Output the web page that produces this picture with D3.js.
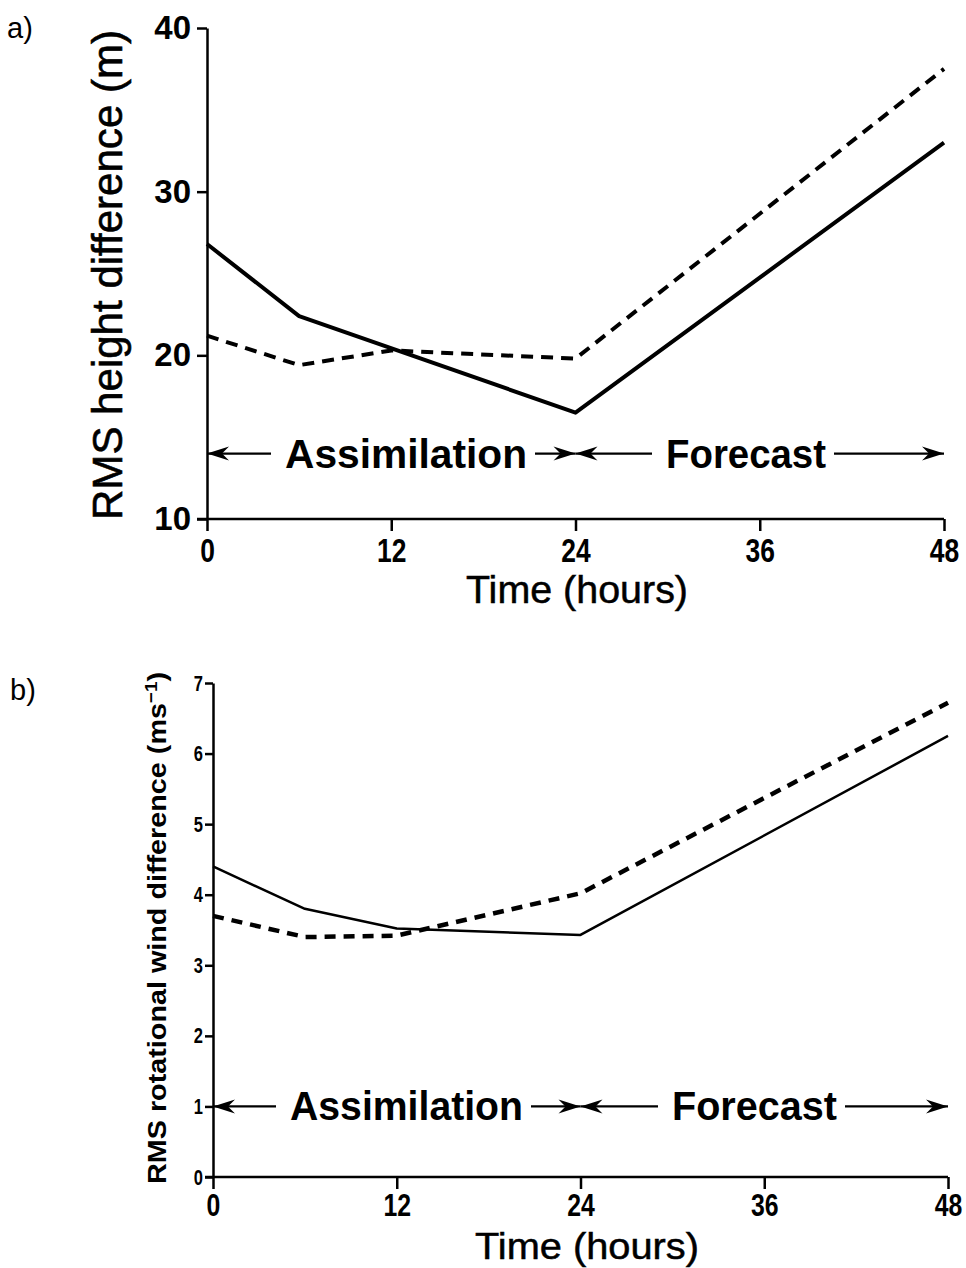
<!DOCTYPE html>
<html><head><meta charset="utf-8">
<script src="https://cdn.jsdelivr.net/npm/d3@7"></script>
<style>
body{margin:0;background:#fff;}
svg{display:block;}
</style></head>
<body>
<svg id="c" width="966" height="1268"></svg>
<script>
// ---- data ----
const xTicks = [0, 12, 24, 36, 48];

// panel a: RMS height difference (m)
const aTicksY = [10, 20, 30, 40];
const aSolidT = [0, 6, 24, 48];
const aSolidV = [26.8, 22.4, 16.5, 33.0];
const aDashT  = [0, 6, 12, 24, 48];
const aDashV  = [21.2, 19.4, 20.3, 19.8, 37.5];

// panel b: RMS rotational wind difference (ms-1)
const bTicksY = [0, 1, 2, 3, 4, 5, 6, 7];
const bSolidT = [0, 6, 12, 24, 48];
const bSolidV = [4.4, 3.8, 3.52, 3.43, 6.25];
const bDashT  = [0, 6, 12, 24, 48];
const bDashV  = [3.7, 3.4, 3.42, 4.02, 6.72];

const phaseLabels = ["Assimilation", "Forecast"];
const phaseBounds = [0, 24, 48];

const svg = d3.select("#c");
const defs = svg.append("defs");
defs.append("marker").attr("id","ah").attr("viewBox","-24 -8 26 16")
  .attr("refX",0).attr("refY",0).attr("markerWidth",26).attr("markerHeight",16)
  .attr("markerUnits","userSpaceOnUse").attr("orient","auto")
  .append("path").attr("d","M0,0 L-22,-7 L-15,0 L-22,7 Z").attr("fill","#000");

function panel(cfg){
  const g = svg.append("g");
  const x = d3.scaleLinear().domain([0,48]).range(cfg.xr);
  const y = d3.scaleLinear().domain(cfg.yd).range(cfg.yr);

  // y axis
  const ya = d3.axisLeft(y).tickValues(cfg.yTicks).tickFormat(d3.format("d"))
    .tickSize(cfg.tickY).tickSizeOuter(0).tickPadding(cfg.padY);
  const yg = g.append("g").attr("transform",`translate(${cfg.xr[0]},0)`).call(ya);
  yg.select(".domain").attr("stroke-width",cfg.axW);
  yg.selectAll(".tick line").attr("stroke-width",cfg.axW);
  yg.selectAll(".tick text").attr("font-family","Liberation Sans, Arial, sans-serif").attr("font-weight","bold")
    .attr("font-size",cfg.yFont).attr("fill","#000")
    .attr("x", -(cfg.tickY+cfg.padY)/cfg.yTickScale)
    .attr("transform",`scale(${cfg.yTickScale},1)`);

  // x axis
  const xa = d3.axisBottom(x).tickValues(xTicks).tickSize(cfg.tickX).tickSizeOuter(0).tickPadding(cfg.padX);
  const xg = g.append("g").attr("transform",`translate(0,${cfg.yr[0]})`).call(xa);
  xg.select(".domain").attr("stroke-width",cfg.axW).attr("d",`M${cfg.xr[0]-cfg.tickY},0H${cfg.xr[1]}`);
  xg.selectAll(".tick line").attr("stroke-width",cfg.axW);
  xg.selectAll(".tick text").attr("font-family","Liberation Sans, Arial, sans-serif")
    .attr("font-weight","bold").attr("font-size",cfg.xFont).attr("fill","#000")
    .attr("transform","scale(0.8,1)");

  // lines
  const line = d3.line().x(d=>x(d[0])).y(d=>y(d[1]));
  g.append("path").datum(cfg.sT.map((t,i)=>[t,cfg.sV[i]])).attr("d",line)
    .attr("fill","none").attr("stroke","#000").attr("stroke-width",cfg.sW).attr("stroke-linejoin","round");
  g.append("path").datum(cfg.dT.map((t,i)=>[t,cfg.dV[i]])).attr("d",line)
    .attr("fill","none").attr("stroke","#000").attr("stroke-width",cfg.dW).attr("stroke-dasharray",cfg.dash);

  // phase annotations
  const ay = y(cfg.arrowV);
  phaseLabels.forEach((lab,i)=>{
    const x0 = x(phaseBounds[i]), x1 = x(phaseBounds[i+1]);
    const t = g.append("text").text(lab).attr("x",cfg.labX[i]).attr("y",ay+cfg.labDy)
      .attr("font-family","Liberation Sans, Arial, sans-serif").attr("font-weight","bold")
      .attr("font-size",cfg.labFont).attr("textLength",cfg.labLen[i]).attr("lengthAdjust","spacingAndGlyphs");
    const bb = t.node().getBBox();
    g.append("line").attr("x1",bb.x-cfg.gapL).attr("x2",x0).attr("y1",ay).attr("y2",ay)
      .attr("stroke","#000").attr("stroke-width",2.2).attr("marker-end","url(#ah)");
    g.append("line").attr("x1",bb.x+bb.width+cfg.gapR).attr("x2",x1).attr("y1",ay).attr("y2",ay)
      .attr("stroke","#000").attr("stroke-width",2.2).attr("marker-end","url(#ah)");
  });
  return {g,x,y};
}

const pa = panel({xr:[207,944], yd:[10,40], yr:[519,28], yTicks:aTicksY, tickY:10, tickX:12, padY:6, padX:8,
  axW:2.5, yFont:33, yTickScale:1, xFont:33, sT:aSolidT, sV:aSolidV, dT:aDashT, dV:aDashV, sW:4, dW:4, dash:"12,8",
  arrowV:14, labX:[285,666], labDy:14, labFont:40, labLen:[242,160], gapL:14, gapR:8});

const pb = panel({xr:[213,948], yd:[0,7], yr:[1177,683], yTicks:bTicksY, tickY:8, tickX:12, padY:2, padX:5,
  axW:2.5, yFont:22, xFont:31, yTickScale:0.75, sT:bSolidT, sV:bSolidV, dT:bDashT, dV:bDashV, sW:2.5, dW:4.5, dash:"11,8",
  arrowV:1, labX:[290,672], labDy:14, labFont:40, labLen:[233,165], gapL:14, gapR:8});

// titles
svg.append("text").text("RMS height difference (m)")
  .attr("transform","translate(122,275) rotate(-90)").attr("text-anchor","middle")
  .attr("font-family","Liberation Sans, Arial, sans-serif").attr("font-size",42)
  .attr("stroke","#000").attr("stroke-width",0.6)
  .attr("textLength",490).attr("lengthAdjust","spacingAndGlyphs");

const bt = svg.append("text").attr("transform","translate(166,928) rotate(-90)").attr("text-anchor","middle")
  .attr("font-family","Liberation Sans, Arial, sans-serif").attr("font-size",26).attr("font-weight","bold")
  .attr("textLength",512).attr("lengthAdjust","spacingAndGlyphs");
bt.append("tspan").text("RMS rotational wind difference (ms");
bt.append("tspan").text("\u22121").attr("font-size",17).attr("dy",-9);
bt.append("tspan").text(")").attr("dy",9);

svg.append("text").text("Time (hours)").attr("x",577).attr("y",603).attr("text-anchor","middle")
  .attr("font-family","Liberation Sans, Arial, sans-serif").attr("font-size",38)
  .attr("stroke","#000").attr("stroke-width",0.5)
  .attr("textLength",222).attr("lengthAdjust","spacingAndGlyphs");
svg.append("text").text("Time (hours)").attr("x",587).attr("y",1259).attr("text-anchor","middle")
  .attr("font-family","Liberation Sans, Arial, sans-serif").attr("font-size",37)
  .attr("stroke","#000").attr("stroke-width",0.5)
  .attr("textLength",224).attr("lengthAdjust","spacingAndGlyphs");

svg.append("text").text("a)").attr("x",7).attr("y",38)
  .attr("font-family","Liberation Sans, Arial, sans-serif").attr("font-size",29);
svg.append("text").text("b)").attr("x",10).attr("y",700)
  .attr("font-family","Liberation Sans, Arial, sans-serif").attr("font-size",29);
</script>
</body></html>
